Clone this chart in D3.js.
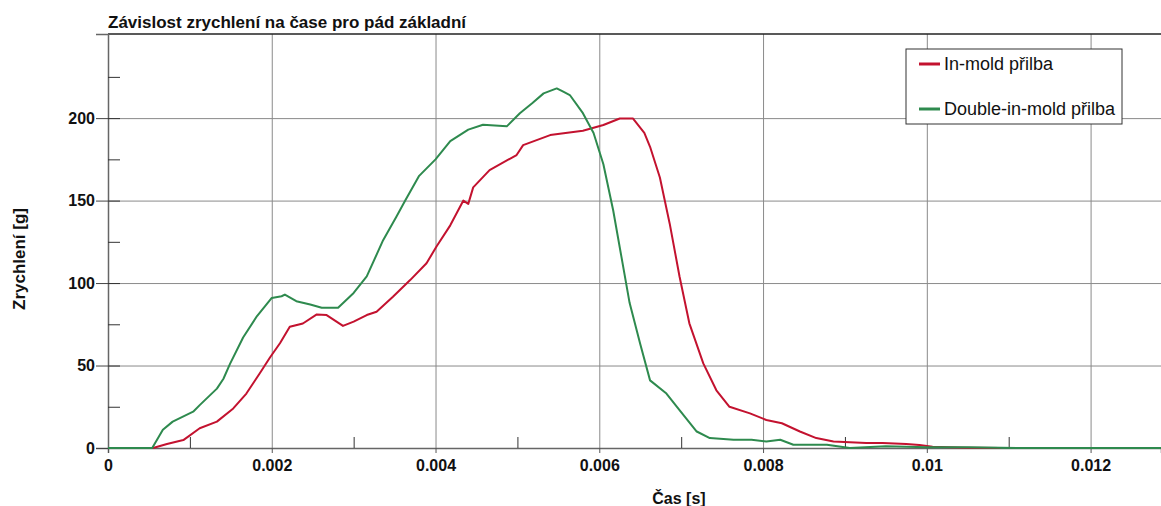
<!DOCTYPE html>
<html>
<head>
<meta charset="utf-8">
<script src="https://cdn.jsdelivr.net/npm/d3@7"></script>
<style>
  body { margin: 0; background: #fff; }
  svg { font-family: Arial, "Liberation Sans", sans-serif; }
</style>
</head>
<body>
<div id="chart"></div>
<script>
// series: time [s], acceleration [g]
const inMoldTime = [0, 0.00055, 0.00072, 0.00092, 0.00112, 0.00133, 0.00153, 0.00169, 0.00185, 0.00198,
  0.0021, 0.00222, 0.00238, 0.00255, 0.00267, 0.00287, 0.003, 0.00316, 0.00328, 0.00348,
  0.00369, 0.00389, 0.00401, 0.00418, 0.00434, 0.0044, 0.00446, 0.00466, 0.00499, 0.00507,
  0.0054, 0.0058, 0.00605, 0.00625, 0.00641, 0.00655, 0.00662, 0.00674, 0.00686, 0.00698,
  0.0071, 0.00727, 0.00743, 0.00759, 0.00784, 0.00804, 0.00823, 0.00845, 0.00865, 0.00886,
  0.00926, 0.00946, 0.00975, 0.00991, 0.01007, 0.01048, 0.0109];
const inMoldAccel = [0, 0, 2.4, 4.8, 12, 16, 24, 33, 45, 55,
  63.5, 73.5, 75.5, 81, 80.6, 74, 76.6, 80.6, 82.6, 91.7,
  101.8, 112, 122, 135, 150, 148, 158, 168.5, 177.6, 183.6,
  189.7, 192.3, 195.8, 199.8, 199.8, 191, 182.6, 164, 136, 104,
  75.6, 51.3, 35, 25, 21, 17, 15, 10, 6, 4,
  3, 3, 2.4, 1.8, 0.8, 0.2, 0];

const doubleTime = [0, 0.00054, 0.00067, 0.00079, 0.00104, 0.00112, 0.00133, 0.00141, 0.00149, 0.00165,
  0.00182, 0.002, 0.00212, 0.00216, 0.0023, 0.00247, 0.00261, 0.00281, 0.003, 0.00316,
  0.00336, 0.00352, 0.00363, 0.0038, 0.004, 0.00418, 0.0044, 0.00458, 0.00487, 0.00503,
  0.00518, 0.00532, 0.00548, 0.00556, 0.00564, 0.0058, 0.00593, 0.00605, 0.00617, 0.00627,
  0.00637, 0.0065, 0.00662, 0.00682, 0.00698, 0.00719, 0.00735, 0.00764, 0.00786, 0.00804,
  0.00821, 0.00837, 0.00878, 0.00906, 0.0095, 0.01, 0.0105, 0.0111, 0.0129];
const doubleAccel = [0, 0, 11, 16, 22, 26, 36, 42, 51, 67,
  80, 91, 92, 93, 89, 87, 85, 85, 94, 104,
  126, 140, 150, 165, 175, 186, 193, 196, 195, 203,
  209, 215, 218, 216, 214, 203, 191, 172, 144, 116,
  88, 63, 41, 33, 23, 10, 6, 5, 5, 4,
  5, 2, 2, 0, 1, 0.5, 0.5, 0, 0];

const seriesNames = ["In-mold přilba", "Double-in-mold přilba"];
const seriesColors = ["#c3122f", "#2e8a4e"];

const xTicks = [0, 0.002, 0.004, 0.006, 0.008, 0.01, 0.012];
const xTickLabels = ["0", "0.002", "0.004", "0.006", "0.008", "0.01", "0.012"];
const xMinorTicks = [0.001, 0.003, 0.005, 0.007, 0.009, 0.011];
const yTicks = [0, 50, 100, 150, 200];
const yMinorTicks = [0, 25, 50, 75, 100, 125, 150, 175, 200, 225];

const svgWidth = 1161, svgHeight = 506;
const margin = { top: 34, right: 0, bottom: 58, left: 108 };
const width = svgWidth - margin.left - margin.right;
const height = svgHeight - margin.top - margin.bottom;

const svg = d3.select("#chart").append("svg")
  .attr("width", svgWidth)
  .attr("height", svgHeight);
const g = svg.append("g")
  .attr("transform", "translate(" + margin.left + "," + margin.top + ")");

const x = d3.scaleLinear().domain([0, 0.01286]).range([0, width]);
const y = d3.scaleLinear().domain([0, 251]).range([height, 0]);

// grid
g.append("g")
  .attr("class", "grid")
  .attr("transform", "translate(0," + height + ")")
  .call(d3.axisBottom(x).tickValues(xTicks.slice(1)).tickSize(-height).tickFormat(""))
  .call(s => s.select(".domain").remove())
  .selectAll("line").attr("stroke", "#8a8a8a");
g.append("g")
  .attr("class", "grid")
  .call(d3.axisLeft(y).tickValues(yTicks.slice(1)).tickSize(-width).tickFormat(""))
  .call(s => s.select(".domain").remove())
  .selectAll("line").attr("stroke", "#8a8a8a");

// top frame
g.append("line")
  .attr("x1", 0).attr("x2", width)
  .attr("y1", 0).attr("y2", 0)
  .attr("stroke", "#222").attr("stroke-width", 1.5);

// x axis
const xAxis = g.append("g")
  .attr("transform", "translate(0," + height + ")")
  .call(d3.axisBottom(x).tickValues(xTicks).tickSize(5).tickPadding(7)
    .tickFormat((d, i) => xTickLabels[i]));
xAxis.select(".domain").attr("stroke", "#666").attr("stroke-width", 1.5);
xAxis.selectAll("line").attr("stroke", "#555");
xAxis.selectAll("text")
  .attr("fill", "#111").style("font-size", "16px").style("font-weight", "bold");

g.append("g")
  .attr("transform", "translate(0," + height + ")")
  .call(d3.axisBottom(x).tickValues(xMinorTicks).tickSize(-11).tickFormat(""))
  .call(s => s.select(".domain").remove())
  .selectAll("line").attr("stroke", "#333");

// y axis
const yAxis = g.append("g")
  .call(d3.axisLeft(y).tickValues(yTicks).tickSize(12).tickPadding(1));
yAxis.select(".domain").attr("stroke", "#666").attr("stroke-width", 1.5);
yAxis.selectAll("line").attr("stroke", "#444");
yAxis.selectAll("text")
  .attr("fill", "#111").style("font-size", "16px").style("font-weight", "bold");

g.append("g")
  .call(d3.axisRight(y).tickValues(yMinorTicks).tickSize(12).tickFormat(""))
  .call(s => s.select(".domain").remove())
  .selectAll("line").attr("stroke", "#333");

// lines
const line = d3.line()
  .x(d => x(d[0]))
  .y(d => y(d[1]));

const series = [
  d3.zip(inMoldTime, inMoldAccel),
  d3.zip(doubleTime, doubleAccel)
];

series.forEach((data, i) => {
  g.append("path")
    .datum(data)
    .attr("fill", "none")
    .attr("stroke", seriesColors[i])
    .attr("stroke-width", 2)
    .attr("stroke-linejoin", "round")
    .attr("d", line);
});

// titles
svg.append("text")
  .attr("x", margin.left)
  .attr("y", 28)
  .style("font-size", "17px")
  .style("font-weight", "bold")
  .attr("fill", "#111")
  .text("Závislost zrychlení na čase pro pád základní");

svg.append("text")
  .attr("transform", "translate(25,259) rotate(-90)")
  .attr("text-anchor", "middle")
  .style("font-size", "17px")
  .style("font-weight", "bold")
  .attr("fill", "#111")
  .text("Zrychlení [g]");

svg.append("text")
  .attr("x", 679)
  .attr("y", 504)
  .attr("text-anchor", "middle")
  .style("font-size", "16px")
  .style("font-weight", "bold")
  .attr("fill", "#111")
  .text("Čas [s]");

// legend
const legend = svg.append("g").attr("transform", "translate(906,49)");
legend.append("rect")
  .attr("width", 216).attr("height", 75)
  .attr("fill", "#fff").attr("stroke", "#333");
seriesNames.forEach((name, i) => {
  const row = legend.append("g").attr("transform", "translate(0," + (15 + i * 45) + ")");
  row.append("line")
    .attr("x1", 13).attr("x2", 34)
    .attr("stroke", seriesColors[i]).attr("stroke-width", 3);
  row.append("text")
    .attr("x", 38).attr("y", 6)
    .style("font-size", "18px")
    .attr("fill", "#111")
    .text(name);
});
</script>
</body>
</html>
